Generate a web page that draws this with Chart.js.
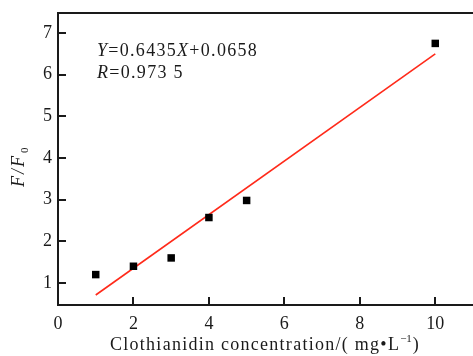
<!DOCTYPE html>
<html>
<head>
<meta charset="utf-8">
<script src="https://cdn.jsdelivr.net/npm/chart.js@4/dist/chart.umd.min.js"></script>
<style>
  html, body { margin: 0; padding: 0; background: #fff; }
  #wrap { width: 473px; height: 356px; }
</style>
</head>
<body>
<div id="wrap"><canvas id="c" width="473" height="356"></canvas></div>
<script>
// measured points
const concX = [1, 2, 3, 4, 5, 10];
const ratioY = [1.2, 1.4, 1.6, 2.57, 2.98, 6.75];
// fitted line end points (Y=0.6435X+0.0658)
const fitX = [1, 10];
const fitY = [0.71, 6.50];
const xTicks = [0, 2, 4, 6, 8, 10];
const yTicks = [1, 2, 3, 4, 5, 6, 7];

const serif = "'Liberation Serif', 'DejaVu Serif', serif";
const ink = "#1a1a1a";

// inward tick marks, top frame line, titles and equation text
const decor = {
  id: "decor",
  afterDraw(chart) {
    const ctx = chart.ctx;
    const a = chart.chartArea;
    const xs = chart.scales.x, ys = chart.scales.y;
    ctx.save();
    ctx.strokeStyle = ink;
    ctx.lineWidth = 2;
    ctx.beginPath();
    ctx.moveTo(a.left - 1, a.top);
    ctx.lineTo(chart.width, a.top);
    xTicks.forEach(v => {
      if (v === 0) return;
      const px = Math.round(xs.getPixelForValue(v));
      ctx.moveTo(px, a.bottom);
      ctx.lineTo(px, a.bottom - 8);
    });
    yTicks.forEach(v => {
      const py = Math.round(ys.getPixelForValue(v));
      ctx.moveTo(a.left, py);
      ctx.lineTo(a.left + 8, py);
    });
    ctx.stroke();

    ctx.fillStyle = ink;
    ctx.textBaseline = "alphabetic";
    ctx.letterSpacing = "1.3px";
    // equation
    const parts = [["Y", true], ["=0.6435", false], ["X", true], ["+0.0658", false]];
    let x = 97;
    parts.forEach(p => {
      ctx.font = (p[1] ? "italic " : "") + "18px " + serif;
      ctx.fillText(p[0], x, 56);
      x += ctx.measureText(p[0]).width;
    });
    x = 97;
    [["R", true], ["=0.973 5", false]].forEach(p => {
      ctx.font = (p[1] ? "italic " : "") + "18px " + serif;
      ctx.fillText(p[0], x, 78);
      x += ctx.measureText(p[0]).width;
    });

    // x title, stretched to the reference width
    ctx.letterSpacing = "0px";
    ctx.font = "18px " + serif;
    const t1 = "Clothianidin concentration/( mg\u2022L";
    const raw = ctx.measureText(t1).width;
    ctx.letterSpacing = ((290 - raw) / t1.length).toFixed(2) + "px";
    ctx.fillText(t1, 110, 350);
    const w = ctx.measureText(t1).width;
    ctx.letterSpacing = "0px";
    ctx.font = "11px " + serif;
    ctx.fillText("\u22121", 110 + w, 342);
    const w2 = ctx.measureText("\u22121").width;
    ctx.font = "18px " + serif;
    ctx.fillText(")", 110 + w + w2 + 1, 350);

    // y title, rotated
    ctx.translate(24, 166);
    ctx.rotate(-Math.PI / 2);
    ctx.font = "italic 18px " + serif;
    ctx.letterSpacing = "2px";
    ctx.fillText("F/F", -21, 0);
    const fw = ctx.measureText("F/F").width;
    ctx.letterSpacing = "0px";
    ctx.font = "11px " + serif;
    ctx.fillText("0", -21 + fw + 1, 4);
    ctx.restore();
  }
};

new Chart(document.getElementById("c"), {
  type: "scatter",
  data: {
    datasets: [
      {
        label: "data",
        data: concX.map((v, i) => ({ x: v, y: ratioY[i] })),
        pointStyle: "rect",
        pointRadius: 5.3,
        pointBackgroundColor: "#000",
        pointBorderWidth: 0,
        showLine: false,
        order: 1
      },
      {
        label: "fit",
        data: fitX.map((v, i) => ({ x: v, y: fitY[i] })),
        showLine: true,
        borderColor: "#ff2a1a",
        borderWidth: 1.6,
        pointRadius: 0,
        order: 2
      }
    ]
  },
  options: {
    responsive: false,
    animation: false,
    devicePixelRatio: 1,
    layout: { autoPadding: false, padding: { top: 13, right: 0, left: 0, bottom: 0 } },
    plugins: { legend: { display: false }, tooltip: { enabled: false } },
    scales: {
      x: {
        type: "linear",
        min: 0,
        max: 11,
        afterBuildTicks: s => { s.ticks = xTicks.map(v => ({ value: v })); },
        afterFit: s => { s.height = 51; s.paddingLeft = 0; s.paddingRight = 0; },
        grid: { display: false, drawTicks: false },
        border: { display: true, color: ink, width: 2 },
        ticks: { padding: 8, color: ink, font: { family: serif, size: 18 } }
      },
      y: {
        type: "linear",
        min: 0.47,
        max: 7.48,
        afterBuildTicks: s => { s.ticks = yTicks.map(v => ({ value: v })); },
        afterFit: s => { s.width = 58; s.paddingTop = 0; s.paddingBottom = 0; },
        grid: { display: false, drawTicks: false },
        border: { display: true, color: ink, width: 2 },
        ticks: { padding: 6, color: ink, font: { family: serif, size: 18 } }
      }
    }
  },
  plugins: [decor]
});
</script>
</body>
</html>
